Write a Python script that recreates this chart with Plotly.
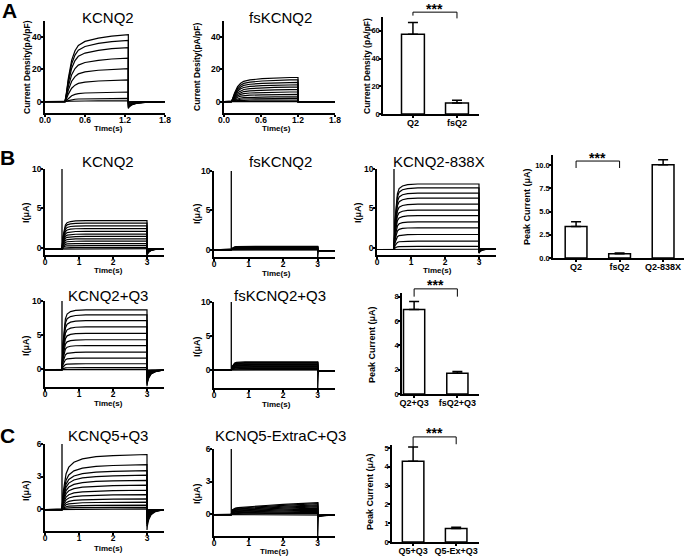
import plotly.graph_objects as go

W, H = 685, 556

# ---------------- values ----------------
# A: whole-cell current density (pA/pF), level reached by each sweep
a_kcnq2_steady = [41.5, 38.0, 33.5, 27.0, 20.5, 13.5, 6.0, 2.0, 0.5]
a_fskcnq2_steady = [15.0, 13.5, 12.0, 10.5, 9.0, 7.5, 6.0, 4.5, 3.0, 2.0, 1.0, 0.3]
a_act_t = [0.0, 0.02, 0.05, 0.1, 0.15, 0.2, 0.3, 0.5, 0.7, 0.95]
a_act_f = [0.0, 0.12, 0.35, 0.62, 0.76, 0.84, 0.9, 0.95, 0.98, 1.0]
a_bar_labels = ["Q2", "fsQ2"]
a_bar_mean = [57.5, 8.0]
a_bar_sem = [8.5, 2.0]

# B: oocyte currents (uA)
b_kcnq2_steady = [3.6, 3.3, 2.95, 2.6, 2.25, 1.9, 1.6, 1.3, 1.0, 0.7, 0.45, 0.2, 0.05]
b_fskcnq2_steady = [0.45, 0.4, 0.35, 0.3, 0.25, 0.2, 0.15, 0.1, 0.05, 0.0]
b_838x_steady = [8.3, 7.8, 7.15, 6.5, 5.75, 5.0, 4.3, 3.5, 2.75, 1.9, 1.05, 0.4, 0.05]
b_q2q3_steady = [8.8, 8.05, 7.2, 6.3, 5.35, 4.4, 3.55, 2.57, 1.7, 0.87, 0.3, 0.05]
b_fsq2q3_steady = [1.2, 1.1, 1.0, 0.9, 0.8, 0.7, 0.6, 0.5, 0.4, 0.3, 0.2, 0.1, 0.0]
b_act_t = [0.0, 0.03, 0.06, 0.1, 0.15, 0.25, 0.4, 0.7, 2.5]
b_act_f = [0.0, 0.45, 0.7, 0.85, 0.93, 0.97, 0.99, 1.0, 1.0]
tail_t = [0.0, 0.01, 0.05, 0.12, 0.25, 0.5]
tail_f = [1.0, 0.8, 0.5, 0.25, 0.1, 0.03]
b1_bar_labels = ["Q2", "fsQ2", "Q2-838X"]
b1_bar_mean = [3.4, 0.45, 10.05]
b1_bar_sem = [0.5, 0.1, 0.55]
b2_bar_labels = ["Q2+Q3", "fsQ2+Q3"]
b2_bar_mean = [6.95, 1.7]
b2_bar_sem = [0.65, 0.15]

# C: KCNQ5 constructs (uA)
c_q5q3_steady = [5.08, 4.15, 3.6, 3.17, 2.7, 2.25, 1.78, 1.38, 0.98, 0.68, 0.4, 0.2, 0.06]
c_extrac_steady = [1.1, 1.0, 0.9, 0.8, 0.7, 0.6, 0.5, 0.4, 0.3, 0.2, 0.1, 0.0]
c_act_t = [0.0, 0.03, 0.07, 0.12, 0.2, 0.35, 0.6, 1.0, 1.5, 2.5]
c_act_f = [0.0, 0.3, 0.5, 0.65, 0.77, 0.86, 0.92, 0.96, 0.98, 1.0]
c_extrac_act_f = [0.0, 0.4, 0.5, 0.55, 0.58, 0.62, 0.68, 0.76, 0.85, 1.0]
c_bar_labels = ["Q5+Q3", "Q5-Ex+Q3"]
c_bar_mean = [4.3, 0.72]
c_bar_sem = [0.75, 0.06]

# ---------------- layout of the 13 small plots (pixel boxes in the page) ----------------
panels = [
    dict(box=(45, 165, 21, 113), xr=[0, 1.8], yr=[-7, 50], xt=[0, 0.6, 1.2, 1.8], xtt=["0.0", "0.6", "1.2", "1.8"], yt=[0, 20, 40]),
    dict(box=(224, 335, 21, 113), xr=[0, 1.8], yr=[-7, 50], xt=[0, 0.6, 1.2, 1.8], xtt=["0.0", "0.6", "1.2", "1.8"], yt=[0, 20, 40]),
    dict(box=(383, 479, 17, 114), xr=[-0.68, 1.5], yr=[0, 70], xt=[0, 1], xtt=a_bar_labels, yt=[0, 20, 40, 60], bar=True),
    dict(box=(45, 164, 169, 255), xr=[0, 3.5], yr=[-0.9, 10], xt=[0, 1, 2, 3], yt=[0, 5, 10]),
    dict(box=(214, 335, 171, 257), xr=[0, 3.5], yr=[-0.9, 10], xt=[0, 1, 2, 3], yt=[0, 5, 10]),
    dict(box=(377, 496, 169, 255), xr=[0, 3.5], yr=[-0.9, 10], xt=[0, 1, 2, 3], yt=[0, 5, 10]),
    dict(box=(553, 684, 155, 258), xr=[-0.53, 2.48], yr=[0, 11.1], xt=[0, 1, 2], xtt=b1_bar_labels,
         yt=[0, 2.5, 5, 7.5, 10], ytt=["0.0", "2.5", "5.0", "7.5", "10.0"], bar=True),
    dict(box=(45, 164, 301, 387), xr=[0, 3.5], yr=[-2.65, 10], xt=[0, 1, 2, 3], yt=[0, 5, 10]),
    dict(box=(214, 335, 302, 388), xr=[0, 3.5], yr=[-2.65, 10], xt=[0, 1, 2, 3], yt=[0, 5, 10]),
    dict(box=(402, 479, 293, 394), xr=[-0.28, 1.5], yr=[0, 8.3], xt=[0, 1], xtt=b2_bar_labels, yt=[0, 2, 4, 6, 8], bar=True),
    dict(box=(45, 164, 444, 531), xr=[0, 3.5], yr=[-2.03, 6], xt=[0, 1, 2, 3], yt=[0, 3, 6]),
    dict(box=(214, 335, 449, 536), xr=[0, 3.5], yr=[-2.03, 6], xt=[0, 1, 2, 3], yt=[0, 3, 6]),
    dict(box=(392, 479, 445, 542), xr=[-0.49, 1.53], yr=[0, 5.16], xt=[0, 1], xtt=c_bar_labels, yt=[0, 1, 2, 3, 4, 5], bar=True),
]


def fx(px):
    return px / W


def fy(py):
    return 1 - py / H


fig = go.Figure()
layout = dict(template="none", width=W, height=H, margin=dict(l=0, r=0, t=0, b=0, pad=0),
              paper_bgcolor="white", plot_bgcolor="white", showlegend=False,
              font=dict(family="Liberation Sans", color="black"))

refs = []
for i, p in enumerate(panels, start=1):
    s = "" if i == 1 else str(i)
    x0, x1, yt, yb = p["box"]
    is_bar = p.get("bar", False)
    common = dict(showline=True, linecolor="black", linewidth=1.5, ticks="outside",
                  ticklen=2, tickwidth=1.5, tickcolor="black", showgrid=False,
                  zeroline=False, fixedrange=True, automargin=False, tickangle=0)
    xfont = dict(family="Liberation Sans", size=9 if is_bar else 8.5, color="black", weight="bold")
    yfont = dict(family="Liberation Sans", size=7.5 if is_bar else 8.5, color="black", weight="bold")
    layout["xaxis" + s] = dict(domain=[fx(x0), fx(x1)], anchor="y" + s, range=p["xr"],
                               tickvals=p["xt"], ticktext=p.get("xtt", [str(v) for v in p["xt"]]),
                               tickfont=xfont, ticklabelstandoff=-3 if is_bar else -4, **common)
    layout["yaxis" + s] = dict(domain=[fy(yb), fy(yt)], anchor="x" + s, range=p["yr"],
                               tickvals=p["yt"], ticktext=p.get("ytt", [str(v) for v in p["yt"]]),
                               tickfont=yfont, ticklabelstandoff=-2, **common)
    refs.append(("x" + s, "y" + s))


def d2p(i, x, y):
    """data coords of panel i (1-based) -> paper coords"""
    p = panels[i - 1]
    x0, x1, yt, yb = p["box"]
    px = x0 + (x - p["xr"][0]) / (p["xr"][1] - p["xr"][0]) * (x1 - x0)
    py = yb - (y - p["yr"][0]) / (p["yr"][1] - p["yr"][0]) * (yb - yt)
    return fx(px), fy(py)


def line(i, xs, ys, w=1.2):
    xr, yr = refs[i - 1]
    fig.add_trace(go.Scatter(x=xs, y=ys, mode="lines", xaxis=xr, yaxis=yr,
                             line=dict(color="black", width=w), hoverinfo="skip"))


def sweeps(i, steady, t0, t1, t_end, hold, act_t, act_f, hold_after, tail_gain=0.0):
    for amp in steady:
        xs, ys = [0.0, t0], [hold, hold]
        for dt, f in zip(act_t, act_f):
            if t0 + dt <= t1:
                xs.append(t0 + dt)
                ys.append(hold + amp * f)
        if xs[-1] < t1:
            xs.append(t1)
            ys.append(hold + amp * act_f[-1])
        for dt, f in zip(tail_t, tail_f):
            xs.append(t1 + dt)
            ys.append(hold_after - tail_gain * amp * f)
        xs.append(t_end)
        ys.append(hold_after)
        line(i, xs, ys)


def spike(i, t0, lo, hi):
    line(i, [t0, t0], [lo, hi], 1.3)


def drop(i, t1, top, bottom, after, t_end):
    line(i, [t1, t1, t1 + 0.02, t_end], [top, bottom, after, after], 1.3)


def bars(i, means, sems, width):
    xr, yr = refs[i - 1]
    fig.add_trace(go.Bar(x=list(range(len(means))), y=means, width=width, xaxis=xr, yaxis=yr,
                         marker=dict(color="white", line=dict(color="black", width=1.5)),
                         error_y=dict(type="data", array=sems, arrayminus=[0] * len(sems),
                                      symmetric=False, color="black", thickness=1.5, width=5),
                         hoverinfo="skip"))


# A
sweeps(1, a_kcnq2_steady, 0.3, 1.25, 1.8, 0.0, a_act_t, a_act_f, 0.0, tail_gain=0.1)
sweeps(2, a_fskcnq2_steady, 0.12, 1.2, 1.8, 0.0, a_act_t, a_act_f, 0.0)
bars(3, a_bar_mean, a_bar_sem, 0.52)

# B
sweeps(4, b_kcnq2_steady, 0.5, 3.0, 3.5, -0.15, b_act_t, b_act_f, -0.1, tail_gain=0.25)
spike(4, 0.5, -0.15, 10)
sweeps(5, b_fskcnq2_steady, 0.5, 3.0, 3.5, 0.0, b_act_t, b_act_f, -0.1)
spike(5, 0.5, 0, 10)
drop(5, 3.0, b_fskcnq2_steady[0], -0.9, -0.1, 3.5)
sweeps(6, b_838x_steady, 0.5, 3.0, 3.5, -0.2, b_act_t, b_act_f, -0.1, tail_gain=0.07)
spike(6, 0.5, -0.2, 10)
bars(7, b1_bar_mean, b1_bar_sem, 0.5)
sweeps(8, b_q2q3_steady, 0.5, 3.0, 3.5, -0.1, b_act_t, b_act_f, -0.15, tail_gain=0.27)
spike(8, 0.5, -0.1, 10)
sweeps(9, b_fsq2q3_steady, 0.5, 3.0, 3.5, 0.0, b_act_t, b_act_f, -0.15)
spike(9, 0.5, 0, 10)
drop(9, 3.0, b_fsq2q3_steady[0], -2.65, -0.15, 3.5)
bars(10, b2_bar_mean, b2_bar_sem, 0.49)

# C
sweeps(11, c_q5q3_steady, 0.5, 3.0, 3.5, -0.05, c_act_t, c_act_f, -0.05, tail_gain=0.37)
spike(11, 0.5, -0.05, 6)
sweeps(12, c_extrac_steady, 0.5, 3.0, 3.5, -0.05, c_act_t, c_extrac_act_f, -0.1, tail_gain=0.2)
spike(12, 0.5, -0.05, 6)
drop(12, 3.0, c_extrac_steady[0], -2.03, -0.1, 3.5)
bars(13, c_bar_mean, c_bar_sem, 0.5)

# ---------------- text ----------------
ann = []


def text(t, x, y, size, bold=False, angle=0):
    ann.append(dict(xref="paper", yref="paper", x=fx(x), y=fy(y), text=t, showarrow=False,
                    xanchor="center", yanchor="middle", textangle=angle,
                    font=dict(family="Liberation Sans", size=size, color="black",
                              weight="bold" if bold else "normal")))


text("A", 9, 10, 21, True)
text("B", 8, 157, 21, True)
text("C", 8, 435, 21, True)

for t, x, y in [("KCNQ2", 108, 17), ("fsKCNQ2", 280, 17), ("KCNQ2", 108, 162),
                ("fsKCNQ2", 280, 162), ("KCNQ2-838X", 439, 162), ("KCNQ2+Q3", 108, 295),
                ("fsKCNQ2+Q3", 280, 295), ("KCNQ5+Q3", 108, 435), ("KCNQ5-ExtraC+Q3", 280, 435)]:
    text(t, x, y, 15)

for x, y in [(108, 128), (276, 128), (108, 270), (276, 273), (437, 270),
             (108, 403), (276, 404), (108, 548), (274, 551)]:
    text("Time(s)", x, y, 8, True)

text("Current Density(pA/pF)", 27, 67, 8.5, True, -90)
text("Current Desity(pA/pF)", 197, 67, 8.5, True, -90)
text("Current Density (pA/pF)", 367, 66, 8.5, True, -90)
for x, y in [(26, 213), (197, 214), (358, 213), (26, 346), (197, 347), (26, 491), (197, 494)]:
    text("I(μA)", x, y, 9, True, -90)
text("Peak Current (μA)", 527, 207, 9, True, -90)
text("Peak Current (μA)", 372, 345, 9, True, -90)
text("Peak Current (μA)", 370, 492, 9, True, -90)

# significance brackets
shapes = []


def bracket(i, xa, xb, yb, ya_end, yb_end):
    (pxa, pya) = d2p(i, xa, yb)
    (pxb, _) = d2p(i, xb, yb)
    _, pa = d2p(i, xa, ya_end)
    _, pb = d2p(i, xb, yb_end)
    for x0, y0, x1, y1 in [(pxa, pya, pxb, pya), (pxa, pya, pxa, pa), (pxb, pya, pxb, pb)]:
        shapes.append(dict(type="line", xref="paper", yref="paper", x0=x0, y0=y0, x1=x1, y1=y1,
                           line=dict(color="black", width=1)))
    ann.append(dict(xref="paper", yref="paper", x=(pxa + pxb) / 2, y=pya + 3.5 / H, text="***",
                    showarrow=False, xanchor="center", yanchor="middle",
                    font=dict(family="Liberation Sans", size=14, color="black", weight="bold")))


bracket(3, 0, 1, 73.5, 71.0, 69.0)
bracket(7, 0, 1, 10.45, 9.7, 9.7)
bracket(10, 0, 1, 8.64, 8.0, 8.0)
bracket(13, 0, 1, 5.59, 5.05, 5.2)

layout["annotations"] = ann
layout["shapes"] = shapes
fig.update_layout(**layout)
# drop the default page margin so the figure sits at the window's top-left corner
fig.write_html("out.html", config={"displayModeBar": False},
               post_script="document.body.style.margin='0';")
